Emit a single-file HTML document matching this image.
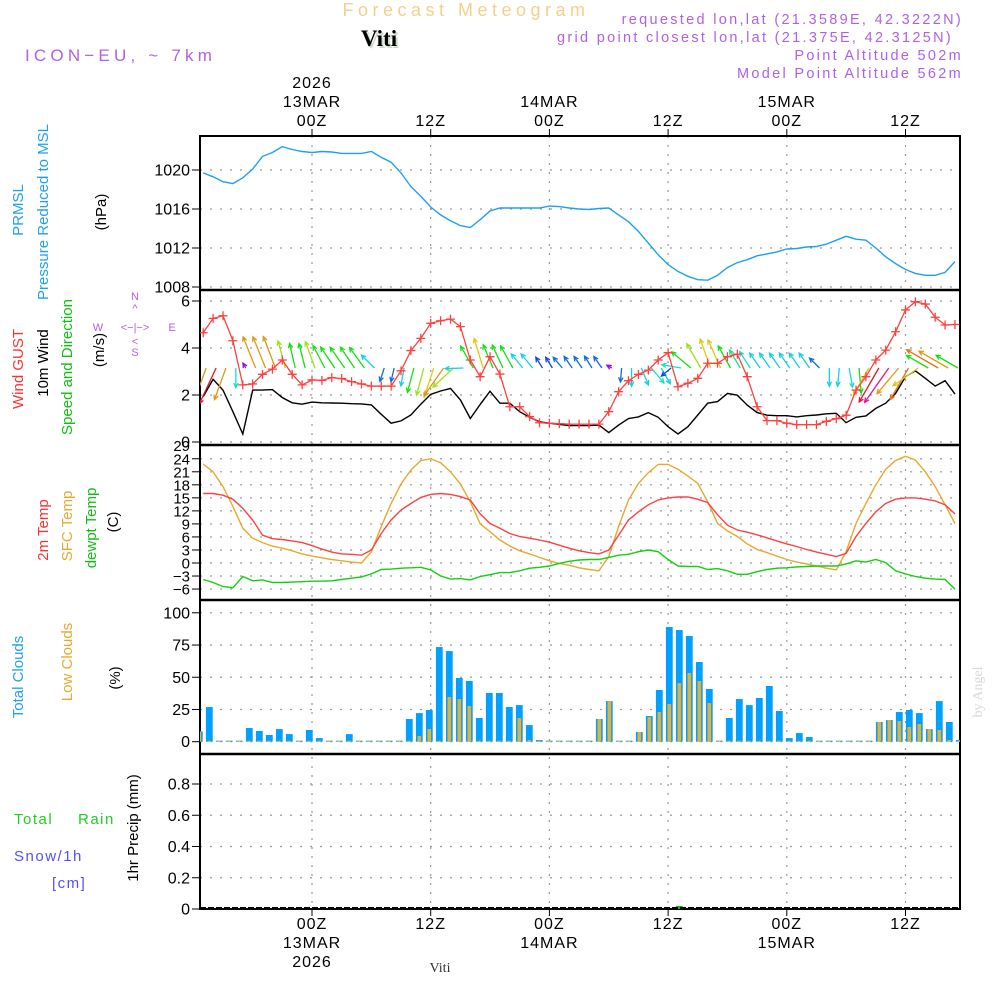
<!DOCTYPE html>
<html><head><meta charset="utf-8"><style>
html,body{margin:0;padding:0;background:#fff;}
svg{display:block;font-family:"Liberation Sans",sans-serif;}
</style></head><body>
<svg id="chart" width="1000" height="1000" viewBox="0 0 1000 1000" xmlns="http://www.w3.org/2000/svg">
<rect width="1000" height="1000" fill="#fff"/>
<text x="466" y="16" text-anchor="middle" font-size="18" letter-spacing="4.5" fill="#f4d08c">Forecast Meteogram</text>
<text x="381" y="48" text-anchor="middle" font-family="Liberation Serif,serif" font-weight="bold" font-size="23" fill="#c8dcc8">Viti</text>
<text x="379" y="46" text-anchor="middle" font-family="Liberation Serif,serif" font-weight="bold" font-size="23" fill="#000">Viti</text>
<text x="25" y="61" font-size="17" letter-spacing="4.2" fill="#b060e8">ICON−EU, ~ 7km</text>
<g font-size="14.5" letter-spacing="2.3" fill="#b060e8" text-anchor="end">
<text x="963" y="24">requested lon,lat (21.3589E, 42.3222N)</text>
<text x="953" y="42">grid point closest lon,lat (21.375E, 42.3125N)</text>
<text x="963" y="60">Point Altitude 502m</text>
<text x="963" y="78">Model Point Altitude 562m</text>
</g>
<g id="axes"></g>
<g id="marks"></g>
<g font-size="15">
<text transform="translate(23,210) rotate(-90)" text-anchor="middle" fill="#20a0f0">PRMSL</text>
<text transform="translate(48,212) rotate(-90)" text-anchor="middle" fill="#20a0f0">Pressure Reduced to MSL</text>
<text transform="translate(106,212) rotate(-90)" text-anchor="middle" fill="#000">(hPa)</text>
<text transform="translate(23,369) rotate(-90)" text-anchor="middle" fill="#ff3030">Wind GUST</text>
<text transform="translate(48,363) rotate(-90)" text-anchor="middle" fill="#000">10m Wind</text>
<text transform="translate(72,367) rotate(-90)" text-anchor="middle" fill="#10c010">Speed and Direction</text>
<text transform="translate(104,350) rotate(-90)" text-anchor="middle" fill="#000">(m/s)</text>
<text transform="translate(48,530) rotate(-90)" text-anchor="middle" fill="#ff3030">2m Temp</text>
<text transform="translate(72,526) rotate(-90)" text-anchor="middle" fill="#e8a830">SFC Temp</text>
<text transform="translate(96,528) rotate(-90)" text-anchor="middle" fill="#10c010">dewpt Temp</text>
<text transform="translate(118,522) rotate(-90)" text-anchor="middle" fill="#000">(C)</text>
<text transform="translate(23,677) rotate(-90)" text-anchor="middle" fill="#20a0f0">Total Clouds</text>
<text transform="translate(72,662) rotate(-90)" text-anchor="middle" fill="#e8a830">Low Clouds</text>
<text transform="translate(120,678) rotate(-90)" text-anchor="middle" fill="#000">(%)</text>
<text transform="translate(138,828) rotate(-90)" text-anchor="middle" fill="#000">1hr Precip (mm)</text>
<text x="14" y="824" letter-spacing="1.5" fill="#20d020">Total</text>
<text x="78" y="824" letter-spacing="1.5" fill="#20d020">Rain</text>
<text x="14" y="861" letter-spacing="1.5" fill="#5050ff">Snow/1h</text>
<text x="52" y="888" letter-spacing="1.5" fill="#5050ff">[cm]</text>
</g>
<g fill="#b060e8" font-size="11" text-anchor="middle">
<text x="135" y="300">N</text><text x="135" y="312">^</text>
<text x="135" y="331">&lt;−|−&gt;</text>
<text x="98" y="331">W</text><text x="172" y="331">E</text>
<text x="135" y="345">&lt;</text><text x="135" y="356">S</text>
</g>
<text transform="translate(982,692) rotate(-90)" text-anchor="middle" font-family="Liberation Serif,serif" font-size="14" fill="#d8d8d8">by Angel</text>
<text x="440" y="972" text-anchor="middle" font-family="Liberation Serif,serif" font-size="14" fill="#333">Viti</text>
</svg>
<script>
const hours = [];for(let h=-11;h<=65;h++)hours.push(h);
const pressure = [1019.7,1019.3,1018.8,1018.6,1019.2,1020.1,1021.4,1021.8,1022.4,1022.1,1021.9,1021.8,1021.9,1021.85,1021.7,1021.7,1021.7,1021.9,1021.3,1020.8,1019.7,1018.3,1017.3,1016.2,1015.4,1014.8,1014.3,1014.1,1014.9,1015.8,1016.1,1016.1,1016.1,1016.1,1016.1,1016.3,1016.25,1016.1,1016.0,1015.95,1016.05,1016.1,1015.4,1014.7,1013.7,1012.5,1011.3,1010.3,1009.6,1009.1,1008.75,1008.7,1009.2,1010.0,1010.5,1010.8,1011.2,1011.4,1011.6,1011.9,1011.95,1012.1,1012.15,1012.4,1012.8,1013.2,1012.9,1012.8,1012.0,1011.1,1010.4,1009.8,1009.4,1009.2,1009.2,1009.5,1010.6];
const gust = [4.65,5.26,5.37,4.31,2.43,2.47,2.88,3.1,3.49,2.88,2.43,2.64,2.62,2.74,2.7,2.57,2.47,2.38,2.38,2.38,3.03,3.89,4.41,5.05,5.16,5.23,4.91,3.49,2.78,3.63,2.89,1.5,1.5,1.08,0.82,0.8,0.78,0.76,0.76,0.76,0.76,1.29,2.14,2.61,2.88,3.06,3.49,3.8,2.35,2.5,2.71,3.35,3.35,3.63,3.74,2.78,1.5,0.91,0.91,0.8,0.74,0.74,0.74,0.88,0.99,1.14,2.21,2.78,3.49,3.91,4.69,5.62,5.97,5.87,5.31,4.98,5.0];
const wind10m = [1.93,2.67,2.21,1.29,0.34,2.21,2.21,2.23,1.89,1.67,1.61,1.7,1.67,1.66,1.65,1.63,1.62,1.58,1.18,0.8,0.9,1.15,1.61,2.03,2.17,2.28,1.79,1.0,1.6,2.16,1.65,1.65,1.29,1.05,0.86,0.8,0.75,0.7,0.7,0.7,0.72,0.4,0.72,1.0,1.07,1.25,1.05,0.65,0.34,0.65,1.15,1.65,1.72,2.07,1.99,1.57,1.25,1.14,1.12,1.12,1.07,1.12,1.15,1.2,1.22,0.82,1.05,1.11,1.43,1.65,2.07,2.78,3.03,2.71,2.38,2.61,2.04];
const windDir = [200,205,200,180,330,338,338,339,345,347,346,340,332,326,325,326,324,315,198,193,190,195,195,198,215,227,268,330,343,337,335,331,321,321,328,328,320,325,325,328,325,300,185,180,158,140,150,230,280,310,330,340,336,331,329,327,325,325,325,325,325,325,315,180,185,170,175,210,210,215,220,210,235,300,300,300,300];
const arrowSpeed = [2.4,2.8,2.4,1.4,0.4,2.4,2.4,2.4,2.0,1.8,1.8,2.0,1.8,1.8,1.8,1.8,1.8,1.3,1.0,1.0,1.3,1.8,2.0,2.2,2.4,2.0,1.3,1.8,2.2,1.8,1.8,1.8,1.3,1.3,0.9,0.9,1.0,1.0,1.0,1.0,1.0,0.4,1.0,1.3,1.3,1.4,1.3,0.9,1.4,1.8,2.0,2.2,2.2,1.8,1.5,1.4,1.3,1.3,1.3,1.3,1.3,1.3,1.0,1.3,1.3,1.4,1.8,2.2,2.8,3.0,2.4,2.6,2.2,1.8,2.6,2.4,1.8];
const temp2m = [16.0,16.0,15.6,14.7,12.6,9.9,6.4,5.6,5.4,5.1,4.7,4.0,3.2,2.5,2.1,2.0,1.8,3.0,6.8,9.9,12.2,13.7,15.1,15.8,16.0,15.8,15.3,14.5,11.3,9.1,8.0,6.8,6.1,5.7,5.3,4.8,4.1,3.4,2.8,2.4,2.1,3.0,6.4,9.9,11.8,13.4,14.5,15.0,15.2,15.2,14.7,13.9,11.1,8.7,7.6,7.1,6.5,5.8,5.1,4.4,3.8,3.1,2.5,2.0,1.5,2.2,6.1,9.1,11.8,13.7,14.7,15.0,15.0,14.7,14.3,13.4,11.3];
const tempSfc = [22.8,21.0,17.6,13.0,8.0,5.7,4.7,3.9,3.4,2.8,2.1,1.6,1.2,0.8,0.5,0.2,0.0,2.6,8.4,13.7,18.2,21.4,23.6,24.0,23.1,21.0,18.2,14.1,9.0,7.2,5.3,3.9,2.8,2.1,1.3,0.5,-0.1,-0.5,-1.1,-1.5,-1.8,1.5,8.4,14.5,18.3,20.8,22.7,22.7,21.6,20.0,18.3,14.1,9.1,7.4,6.1,4.4,3.1,2.4,1.6,0.8,0.2,-0.2,-0.7,-1.2,-1.6,2.6,9.1,13.7,18.0,21.6,23.6,24.6,23.7,21.0,17.6,13.4,9.1];
const dewpt = [-3.8,-4.5,-5.4,-5.7,-3.1,-4.1,-3.9,-4.5,-4.5,-4.4,-4.3,-4.2,-4.2,-4.1,-3.8,-3.5,-3.2,-2.5,-1.5,-1.4,-1.2,-1.1,-1.0,-1.6,-3.0,-3.7,-3.6,-3.9,-3.1,-2.7,-2.2,-2.2,-1.8,-1.2,-1.0,-0.7,-0.1,0.4,0.7,0.8,0.8,1.3,1.8,2.0,2.6,3.0,2.6,0.8,-0.7,-0.8,-0.8,-1.5,-1.3,-1.8,-2.6,-2.6,-2.0,-1.5,-1.2,-1.1,-0.9,-0.8,-0.7,-0.7,-0.7,-0.2,0.5,0.2,0.8,0.1,-1.8,-2.5,-3.1,-3.5,-3.7,-3.8,-6.0];
const totalClouds = [8,26.9,0,0,0,10.6,8.3,5.2,9.8,5.9,0,9.1,2.8,0,0,5.9,0,0,0,0,0,17.6,22.2,24.6,73.4,70.3,49.4,47.1,18.4,37.8,37.8,26.9,28.4,12.9,1.3,0,0,0,0,0,17.6,31.5,0,0,7.5,19.9,40.1,89,86.6,82,61.8,40.9,0.5,18.4,33.1,28.4,33.9,43.2,23.8,2.8,6.7,3.6,0,0,0,0,0,0,15.3,16.8,23,24.6,22.2,9.8,31.5,15.3,1.3];
const lowClouds = [8,0,0,0,0,0,0,0,0,0,0,0,0,0,0,0,0,0,0,0,0,0,4.4,9.8,0,34.7,33.1,27.7,0,0,0,0,18.4,1.3,0,0,0,0,0,0,17.6,31.5,0,0,7.5,19.1,23,29.2,45.5,53.3,47.1,30,0,0,0,0,0,0,0,0,0,0,0,0,0,0,0,0,15.3,16.8,16,11.4,13.7,9.8,9.1,1.3,0];
const precip = [0,0,0,0,0,0,0,0,0,0,0,0,0,0,0,0,0,0,0,0,0,0,0,0,0,0,0,0,0,0,0,0,0,0,0,0,0,0,0,0,0,0,0,0,0,0,0,0,0.02,0,0,0,0,0,0,0,0,0,0,0,0,0,0,0,0,0,0,0,0,0,0,0,0,0,0,0];
const timeTicks = [0,12,24,36,48,60];
const timeTopLabels = [["2026","13MAR","00Z"],["12Z"],["14MAR","00Z"],["12Z"],["15MAR","00Z"],["12Z"]];
const timeBotLabels = [["00Z","13MAR","2026"],["12Z"],["00Z","14MAR"],["12Z"],["00Z","15MAR"],["12Z"]];
const pTicks = [1008,1012,1016,1020];
const wTicks = [0,2,4,6];
const tTicks = [-6,-3,0,3,6,9,12,15,18,21,24];
const cTicks = [0,25,50,75,100];
const rTicks = [0,0.2,0.4,0.6,0.8];

const NS='http://www.w3.org/2000/svg';
const L=200,R=960;
const x = h => 312 + h*118.7/12;
const xb = i => 199.3 + 10*i;
const yP = p => 170 + (1020-p)*9.75;
const yW = v => 442 - 23.5*v;
const yT = t => 563 - 4.343*t;
const yC = c => 741.7 - 1.289*c;
const yR = r => 909 - 156.25*r;
const axes=document.getElementById('axes'), marks=document.getElementById('marks');
function mk(tag,attrs,parent){const e=document.createElementNS(NS,tag);for(const k in attrs)e.setAttribute(k,attrs[k]);(parent||marks).appendChild(e);return e;}
function txt(s,xx,yy,anchor,size,parent){const e=mk('text',{x:xx,y:yy,'text-anchor':anchor,'font-size':size,fill:'#000'},parent||axes);e.textContent=s;return e;}

const defs=mk('defs',{},axes);
const cp=mk('clipPath',{id:'plotclip'},defs);mk('rect',{x:L,y:136,width:R-L,height:773},cp);
marks.setAttribute('clip-path','url(#plotclip)');

timeTicks.forEach((t,i)=>{
  const g=mk('line',{x1:x(t),x2:x(t),y1:136,y2:909,stroke:'#999','stroke-dasharray':'2,7','stroke-width':1.2},axes);
  
  
  mk('line',{x1:x(t),x2:x(t),y1:129,y2:136,stroke:'#000'},axes);
  mk('line',{x1:x(t),x2:x(t),y1:909,y2:916,stroke:'#000'},axes);
  const top=timeTopLabels[i];
  top.forEach((s,j)=>{const e=txt(s,x(t),126-(top.length-1-j)*19,'middle',16);e.setAttribute('letter-spacing','1');
    
    });
  timeBotLabels[i].forEach((s,j)=>{const e=txt(s,x(t),929+j*19,'middle',16);e.setAttribute('letter-spacing','1');
    
    });
});
function yaxis(ticks,f,fmt,name,size){
  ticks.forEach(v=>{
    const y=f(v);
    const g=mk('line',{x1:L,x2:R,y1:y,y2:y,stroke:'#999','stroke-dasharray':'2,8','stroke-width':1.2},axes);
    
    
    mk('line',{x1:L-8,x2:L,y1:y,y2:y,stroke:'#000'},axes);
    const e=txt(fmt(v),L-10,y+5.5,'end',size||16);
    
    
  });
}
yaxis(pTicks,yP,v=>String(v),'pressure');
yaxis(wTicks,yW,v=>String(v),'wind');
yaxis(tTicks,yT,v=>v<0?'−'+(-v):String(v),'temp',15);
txt('29',L-10,451,'end',15);
yaxis(cTicks,yC,v=>String(v),'cloud');
yaxis(rTicks,yR,v=>v===0?'0':v.toFixed(1),'precip');
mk('rect',{x:L,y:136,width:R-L,height:773,fill:'none',stroke:'#000','stroke-width':2},axes);
[290,445,600,754].forEach(y=>{const s=mk('line',{x1:L,x2:R,y1:y,y2:y,stroke:'#000','stroke-width':2.5},axes);
  
  });

function line(arr,fy,color,name,w){
  const d=arr.map((v,i)=>(i?'L':'M')+x(hours[i]).toFixed(1)+','+fy(v).toFixed(1)).join('');
  const p=mk('path',{d:d,fill:'none',stroke:color,'stroke-width':w||1.4});
  
  
}
line(pressure,yP,'#1ea0f0','pressure-line');
line(wind10m,yW,'#000','wind-speed-line');
function hueFor(s){const st=[[0.4,275],[0.9,225],[1.3,185],[1.5,160],[1.8,120],[2.0,80],[2.2,52],[2.4,38],[2.6,28],[2.8,350],[3.0,320]];
  if(s<=st[0][0])return st[0][1];for(let i=1;i<st.length;i++){if(s<=st[i][0]){const a=st[i-1],b=st[i];let hb=b[1];if(hb>a[1]+180)hb-=360;return a[1]+(hb-a[1])*(s-a[0])/(b[0]-a[0]);}}return 320;}
windDir.forEach((dir,i)=>{
  const s=arrowSpeed[i],len=14*s,a=dir*Math.PI/180;
  const x0=x(hours[i])+3,y0=368,x1=x0+len*Math.sin(a),y1=y0-len*Math.cos(a);
  let hh=hueFor(s);if(hh<0)hh+=360;
  const col='hsl('+hh.toFixed(0)+',85%,48%)';
  const g=mk('g',{stroke:col,'stroke-width':1.3,fill:'none'});
  
  
  mk('line',{x1:x0,y1:y0,x2:x1,y2:y1},g);
  const hl=5,b1=a+Math.PI-0.45,b2=a+Math.PI+0.45;
  mk('path',{d:'M'+(x1+hl*Math.sin(b1))+','+(y1-hl*Math.cos(b1))+'L'+x1+','+y1+'L'+(x1+hl*Math.sin(b2))+','+(y1-hl*Math.cos(b2))},g);
});
line(gust,yW,'#ff4040','wind-gust-line',1.3);
gust.forEach((v,i)=>{const cx=x(hours[i]),cy=yW(v);
  const m=mk('path',{d:'M'+(cx-4.5)+','+cy+'h9M'+cx+','+(cy-4.5)+'v9',stroke:'#ff4040','stroke-width':1.3});
  
  });
line(tempSfc,yT,'#e8a830','sfc-temp-line');
line(temp2m,yT,'#ff4040','temp-2m-line');
line(dewpt,yT,'#10d010','dewpoint-line');
totalClouds.forEach((v,i)=>{const cx=xb(i);const h=Math.max(1,yC(0)-yC(v));
  const b=mk('rect',{x:cx-3.4,y:yC(0)-h,width:6.8,height:h,fill:'#00a0ff'});
  
  });
lowClouds.forEach((v,i)=>{const cx=xb(i);const h=Math.max(1,yC(0)-yC(v));
  const b=mk('rect',{x:cx-1.8,y:yC(0)-h,width:3.6,height:h,fill:'#e8b030'});
  
  });
precip.forEach((v,i)=>{if(v<=0)return;const cx=xb(i);const h=yR(0)-yR(v);
  const b=mk('rect',{x:cx-3.4,y:yR(0)-h,width:6.8,height:h,fill:'#20b020'});
  
  });
mk('line',{x1:L,x2:R,y1:908,y2:908,stroke:'#000','stroke-width':2,'stroke-dasharray':'6,2'});
</script>
</body></html>
